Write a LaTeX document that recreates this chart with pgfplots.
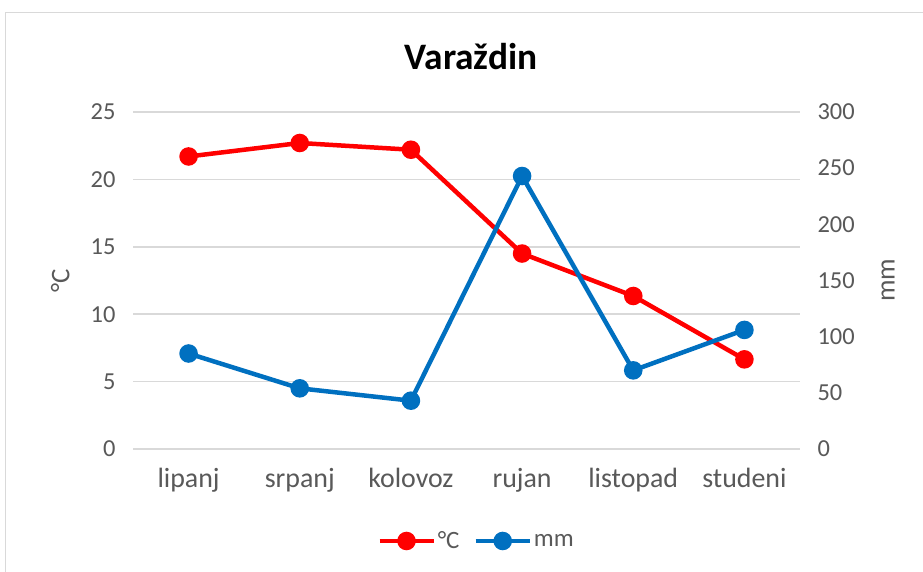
\documentclass[border=0pt]{standalone}
\usepackage{fontspec}
\setmainfont{Carlito}
\usepackage{pgfplots}
\pgfplotsset{compat=1.18}
\definecolor{tempred}{HTML}{FF0000}
\definecolor{rainblue}{HTML}{0070C0}
\definecolor{gridgray}{HTML}{D9D9D9}
\definecolor{textgray}{HTML}{595959}
\pgfplotsset{
  common/.style={
    at={(133bp,123bp)}, anchor=south west, scale only axis,
    width=667bp, height=337bp,
    xmin=-0.5, xmax=5.5,
    major tick length=0pt,
    tick label style={font=\fontsize{24.5}{28}\selectfont, text=textgray},
    label style={font=\fontsize{27}{30}\selectfont, text=textgray},
    /pgf/number format/assume math mode=true,
    clip=false,
  },
  serie/.style={line width=4.5bp, mark=*, mark size=7bp, mark options={solid}},
}
\begin{document}
\begin{tikzpicture}[x=1bp,y=1bp]
\useasboundingbox (0,0) rectangle (923,572);
\fill[white] (0,0) rectangle (923,572);
\draw[gridgray, line width=1.5bp] (5.5,0) -- (5.5,559.5) -- (923,559.5);
\node[font=\fontsize{37.5}{40}\selectfont\bfseries] at (471,515) {Varaždin};
\begin{axis}[common,
  ymin=0, ymax=25, ytick={0,5,...,25},
  xtick={0,...,5}, xticklabels={lipanj,srpanj,kolovoz,rujan,listopad,studeni},
  axis line style={draw=none},
  ymajorgrids, grid style={gridgray, line width=1.5bp},
  yticklabel style={xshift=-14bp},
  xticklabel style={yshift=-16bp, font=\fontsize{28}{32}\selectfont},
  ylabel={°C},
  ylabel style={at={(axis description cs:-0.109,0.5)}, anchor=center},
]
\addplot[serie, tempred] coordinates {(0,21.7) (1,22.7) (2,22.2) (3,14.5) (4,11.35) (5,6.65)};
\end{axis}
\begin{axis}[common,
  ymin=0, ymax=300, ytick={0,50,...,300},
  axis y line*=right, axis x line=none,
  axis line style={draw=none},
  yticklabel style={xshift=14bp},
  ylabel={mm},
  ylabel style={at={(axis description cs:1.132,0.5)}, anchor=center, rotate=0},
  legend style={at={(axis description cs:0.515,-0.273)}, anchor=center,
    draw=none, fill=none, legend columns=2,
    font=\fontsize{25}{28}\selectfont, text=textgray,
    /tikz/every even column/.append style={column sep=12bp}},
  legend image code/.code={\draw[mark repeat=2, mark phase=2] plot coordinates {(0bp,0bp) (27bp,0bp) (54bp,0bp)};},
]
\addlegendimage{serie, tempred}
\addlegendentry{°C}
\addplot[serie, rainblue] coordinates {(0,85) (1,54) (2,43) (3,243) (4,70) (5,106)};
\addlegendentry{mm}
\end{axis}
\end{tikzpicture}
\end{document}
